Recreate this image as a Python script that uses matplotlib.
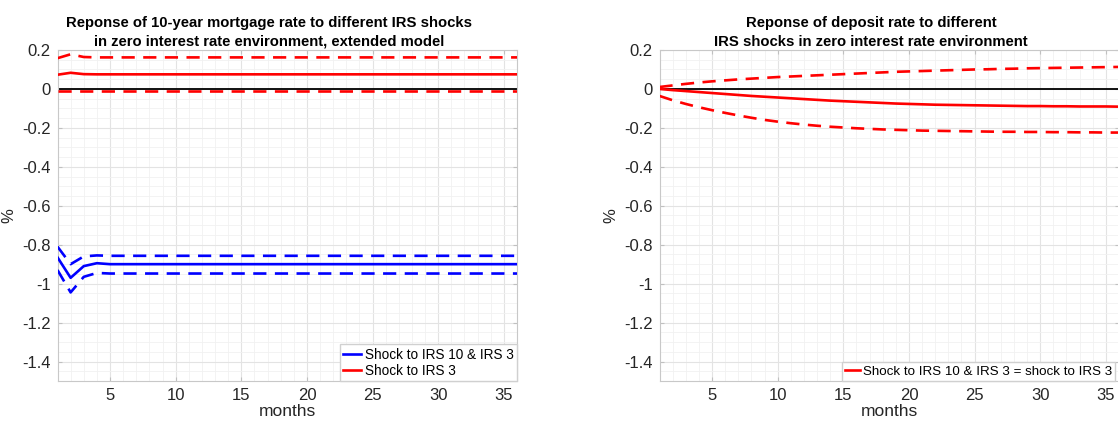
import matplotlib
matplotlib.use("Agg")
import matplotlib.pyplot as plt
from matplotlib.ticker import MultipleLocator

plt.rcParams['font.family'] = ['Liberation Sans', 'DejaVu Sans']

months = list(range(1, 37))

# left panel: 10-year mortgage rate, extended model
blue_mid = [-0.865, -0.97, -0.91, -0.895] + [-0.9] * 32
blue_hi = [-0.81, -0.90, -0.86, -0.855] + [-0.857] * 32
blue_lo = [-0.93, -1.045, -0.965, -0.945] + [-0.948] * 32
red_mid = [0.073, 0.083, 0.076] + [0.075] * 33
red_hi = [0.158, 0.178, 0.164] + [0.162] * 33
red_lo = [-0.013] * 36

# right panel: deposit rate
dep_mid = [0, -0.006, -0.011, -0.016, -0.021, -0.026, -0.031, -0.036, -0.040, -0.044,
           -0.048, -0.052, -0.056, -0.060, -0.063, -0.066, -0.069, -0.072, -0.075, -0.077,
           -0.079, -0.081, -0.082, -0.083, -0.084, -0.085, -0.086, -0.087, -0.088, -0.088,
           -0.089, -0.089, -0.090, -0.090, -0.090, -0.091]
dep_hi = [0.01, 0.018, 0.026, 0.033, 0.039, 0.044, 0.049, 0.053, 0.057, 0.061,
          0.064, 0.067, 0.070, 0.073, 0.076, 0.079, 0.082, 0.085, 0.088, 0.090,
          0.092, 0.094, 0.096, 0.098, 0.100, 0.101, 0.103, 0.104, 0.106, 0.107,
          0.108, 0.109, 0.110, 0.111, 0.112, 0.113]
dep_lo = [-0.036, -0.058, -0.077, -0.094, -0.109, -0.123, -0.136, -0.148, -0.159, -0.168,
          -0.176, -0.183, -0.189, -0.194, -0.198, -0.202, -0.205, -0.208, -0.210, -0.212,
          -0.214, -0.215, -0.216, -0.217, -0.218, -0.219, -0.220, -0.220, -0.221, -0.221,
          -0.222, -0.222, -0.223, -0.223, -0.224, -0.224]

yticks = [0.2, 0, -0.2, -0.4, -0.6, -0.8, -1, -1.2, -1.4]
ytick_labels = ['0.2', '0', '-0.2', '-0.4', '-0.6', '-0.8', '-1', '-1.2', '-1.4']
xticks = [5, 10, 15, 20, 25, 30, 35]

W, H = 1118, 423
fig = plt.figure(figsize=(W / 100, H / 100), dpi=100)
ax1 = fig.add_axes([57.5 / W, 1 - 381 / H, 459.5 / W, 331 / H])
ax2 = fig.add_axes([659.5 / W, 1 - 381 / H, 459.5 / W, 331 / H])

dash = (0, (5, 3.2))
grey = '#262626'
LW = 1.9


def style(ax, title):
    ax.set_xlim(1, 36)
    ax.set_ylim(-1.5, 0.2)
    ax.set_xticks(xticks)
    ax.set_yticks(yticks)
    ax.set_yticklabels(ytick_labels)
    ax.xaxis.set_minor_locator(MultipleLocator(1))
    ax.yaxis.set_minor_locator(MultipleLocator(0.05))
    ax.grid(True, which='major', color='#e3e3e3', lw=0.8)
    ax.grid(True, which='minor', color='#f1f1f1', lw=0.6)
    ax.set_axisbelow(True)
    ax.tick_params(which='both', direction='in', colors='#c0c0c0', labelcolor=grey,
                   labelsize=12, top=True, right=True, pad=5)
    ax.tick_params(which='minor', length=0)
    ax.tick_params(which='major', length=3)
    for s in ax.spines.values():
        s.set_color('#c8c8c8')
    ax.set_xlabel('months', fontsize=12.5, color=grey, labelpad=1)
    ax.set_ylabel('%', fontsize=12, color=grey, labelpad=4)
    ax.set_title(title, fontsize=10.7, fontweight='bold', color='black', x=0.46, pad=3,
                 linespacing=1.45)
    ax.axhline(0, color='black', lw=1.3, zorder=2)


style(ax1, 'Reponse of 10-year mortgage rate to different IRS shocks\n'
           'in zero interest rate environment, extended model')
ax1.plot(months, blue_mid, color='blue', lw=LW, label='Shock to IRS 10 & IRS 3', zorder=3)
ax1.plot(months, blue_hi, color='blue', lw=LW, ls=dash, zorder=3)
ax1.plot(months, blue_lo, color='blue', lw=LW, ls=dash, zorder=3)
ax1.plot(months, red_mid, color='red', lw=LW, label='Shock to IRS 3', zorder=3)
ax1.plot(months, red_hi, color='red', lw=LW, ls=dash, zorder=3)
ax1.plot(months, red_lo, color='red', lw=LW, ls=dash, zorder=3)
handles = [h for h in ax1.get_lines() if not h.get_label().startswith('_')]
ax1.legend(handles=handles, loc='lower right', fontsize=9.8, borderaxespad=0,
           handlelength=1.3, handletextpad=0.3, borderpad=0.25, labelspacing=0.15,
           fancybox=False, framealpha=1, edgecolor='#d0d0d0')

style(ax2, 'Reponse of deposit rate to different\n'
           'IRS shocks in zero interest rate environment')
ax2.plot(months, dep_mid, color='red', lw=LW,
         label='Shock to IRS 10 & IRS 3 = shock to IRS 3', zorder=3)
ax2.plot(months, dep_hi, color='red', lw=LW, ls=dash, zorder=3)
ax2.plot(months, dep_lo, color='red', lw=LW, ls=dash, zorder=3)
handles2 = [h for h in ax2.get_lines() if not h.get_label().startswith('_')]
ax2.legend(handles=handles2, loc='lower left', bbox_to_anchor=((842 - 659.5) / 459.5, 0),
           fontsize=9.6, borderaxespad=0, handlelength=1.1, handletextpad=0.2,
           borderpad=0.25, fancybox=False, framealpha=1, edgecolor='#d0d0d0')

fig.savefig('out.png', dpi=100)
